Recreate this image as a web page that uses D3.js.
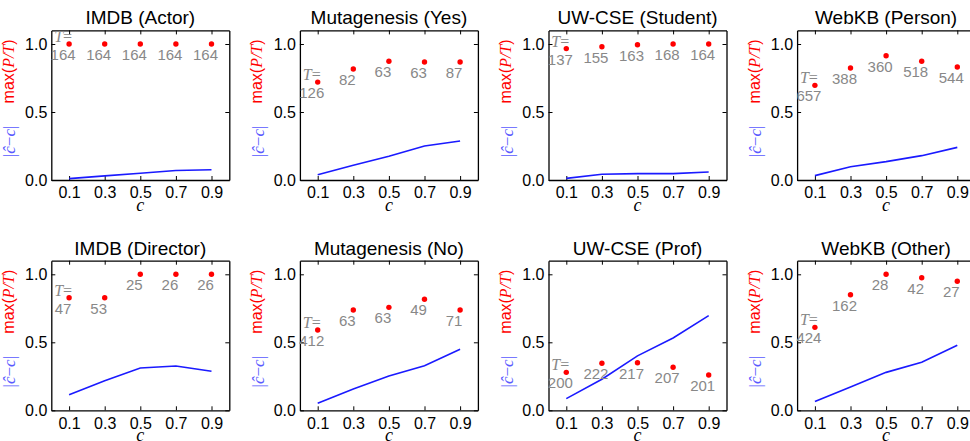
<!DOCTYPE html>
<html>
<head>
<meta charset="utf-8">
<script src="https://cdn.jsdelivr.net/npm/d3@7"></script>
<style>
  body { margin: 0; background: #fff; }
</style>
</head>
<body>
<div id="chart"></div>
<script>
	// c values (x) shared by every panel
	var cs = [0.1, 0.3, 0.5, 0.7, 0.9];
	var titles = ["IMDB (Actor)", "Mutagenesis (Yes)", "UW-CSE (Student)", "WebKB (Person)",
	              "IMDB (Director)", "Mutagenesis (No)", "UW-CSE (Prof)", "WebKB (Other)"];
	// red dots: max(P/T)
	var maxPT = [
		[1.0, 1.0, 1.0, 1.0, 1.0],
		[0.72, 0.816, 0.873, 0.868, 0.868],
		[0.966, 0.98, 0.995, 1.0, 1.0],
		[0.696, 0.824, 0.914, 0.873, 0.831],
		[0.828, 0.828, 1.0, 1.0, 1.0],
		[0.59, 0.738, 0.757, 0.816, 0.738],
		[0.279, 0.346, 0.35, 0.316, 0.26],
		[0.61, 0.85, 1.0, 0.975, 0.949]
	];
	// grey labels: T
	var tCounts = [
		[164, 164, 164, 164, 164],
		[126, 82, 63, 63, 87],
		[137, 155, 163, 168, 164],
		[657, 388, 360, 518, 544],
		[47, 53, 25, 26, 26],
		[412, 63, 63, 49, 71],
		[200, 222, 217, 207, 201],
		[424, 162, 28, 42, 27]
	];
	// blue line: |c_hat - c|
	var errs = [
		[0.01, 0.03, 0.05, 0.07, 0.075],
		[0.039, 0.108, 0.174, 0.25, 0.287],
		[0.012, 0.042, 0.047, 0.047, 0.059],
		[0.032, 0.098, 0.135, 0.179, 0.24],
		[0.115, 0.218, 0.311, 0.326, 0.287],
		[0.051, 0.157, 0.252, 0.328, 0.449],
		[0.086, 0.228, 0.4, 0.532, 0.696],
		[0.064, 0.172, 0.279, 0.353, 0.478]
	];
	var yTicks = [0, 0.5, 1.0];

	var wi = 970, he = 441;
	var pw = 178, ph = 149.6;
	var sans = "'Liberation Sans', Arial, sans-serif";
	var serif = "'Liberation Serif', 'Times New Roman', serif";

	var svg = d3.select("#chart")
				.append("svg")
				.attr("width", wi)
				.attr("height", he)
				.style("display", "block");

	var x = d3.scaleLinear().domain([0, 1]).range([0, pw]);
	var y = d3.scaleLinear().domain([0, 1.1]).range([ph, 0]);

	titles.forEach(function(title, i) {
		var col = i % 4, row = Math.floor(i / 4);
		var left = 51.3 + col * 248.6;
		var top = 30.4 + row * 230.3;
		var g = svg.append("g").attr("transform", "translate(" + left + "," + top + ")");

		// axes: ticks point inward, box on all four sides
		var fmt = d3.format(".1f");
		g.append("g").attr("transform", "translate(0," + ph + ")")
			.call(d3.axisBottom(x).tickValues(cs).tickFormat(fmt).tickSize(-4).tickSizeOuter(0).tickPadding(7));
		g.append("g")
			.call(d3.axisLeft(y).tickValues(yTicks).tickFormat(fmt).tickSize(-4).tickSizeOuter(0).tickPadding(4));
		g.append("g")
			.call(d3.axisTop(x).tickValues(cs).tickFormat("").tickSize(-4).tickSizeOuter(0));
		g.append("g").attr("transform", "translate(" + pw + ",0)")
			.call(d3.axisRight(y).tickValues(yTicks).tickFormat("").tickSize(-4).tickSizeOuter(0));
		g.selectAll(".domain").attr("stroke", "#000").attr("stroke-width", 1.3);
		g.selectAll(".tick line").attr("stroke", "#000").attr("stroke-width", 1);
		g.selectAll(".tick text")
			.attr("font-family", sans)
			.attr("font-size", "16px")
			.attr("fill", "#000");

		// blue error line
		var line = d3.line()
			.x(function(d, j) { return x(cs[j]); })
			.y(function(d) { return y(d); });
		g.append("path")
			.datum(errs[i])
			.attr("d", line)
			.attr("fill", "none")
			.attr("stroke", "#1a1aff")
			.attr("stroke-width", 1.6);

		// red dots
		g.selectAll("circle.pt")
			.data(maxPT[i])
			.enter()
			.append("circle")
			.attr("cx", function(d, j) { return x(cs[j]); })
			.attr("cy", function(d) { return y(d); })
			.attr("r", 2.7)
			.attr("fill", "#ff0000");

		// grey T counts
		g.selectAll("text.tc")
			.data(tCounts[i])
			.enter()
			.append("text")
			.attr("x", function(d, j) { return x(cs[j]) - 6; })
			.attr("y", function(d, j) { return y(maxPT[i][j]) + 16; })
			.attr("text-anchor", "middle")
			.attr("font-family", sans)
			.attr("font-size", "15px")
			.attr("fill", "#888")
			.text(function(d) { return d; });

		// "T=" over the first label
		var t0 = g.append("text")
			.attr("x", x(cs[0]) - 6)
			.attr("y", y(maxPT[i][0]) + 16 - 18)
			.attr("text-anchor", "middle")
			.attr("font-family", serif)
			.attr("font-size", "16px")
			.attr("fill", "#888");
		t0.append("tspan").attr("font-style", "italic").text("T");
		t0.append("tspan").text("=");

		// title
		g.append("text")
			.attr("x", pw / 2)
			.attr("y", -6)
			.attr("text-anchor", "middle")
			.attr("font-family", sans)
			.attr("font-size", "19px")
			.attr("fill", "#000")
			.text(title);

		// x label
		g.append("text")
			.attr("x", pw / 2)
			.attr("y", ph + 31)
			.attr("text-anchor", "middle")
			.attr("font-family", serif)
			.attr("font-style", "italic")
			.attr("font-size", "18px")
			.attr("fill", "#000")
			.text("c");

		// y label: red max(P/T) and blue |c^-c|
		var red = g.append("text")
			.attr("transform", "translate(-37.5," + 41 + ") rotate(-90)")
			.attr("text-anchor", "middle")
			.attr("font-size", "16px")
			.attr("fill", "#ff0000");
		red.append("tspan").attr("font-family", sans).text("max(");
		red.append("tspan").attr("font-family", serif).attr("font-style", "italic").text("P/T");
		red.append("tspan").attr("font-family", sans).text(")");

		var blue = g.append("text")
			.attr("transform", "translate(-36," + 111 + ") rotate(-90)")
			.attr("text-anchor", "middle")
			.attr("font-family", serif)
			.attr("font-size", "17px")
			.attr("fill", "#5a5aff");
		blue.append("tspan").text("|");
		blue.append("tspan").attr("font-style", "italic").text("\u0109");
		blue.append("tspan").text("\u2212");
		blue.append("tspan").attr("font-style", "italic").text("c");
		blue.append("tspan").text("|");
	});
</script>
</body>
</html>
